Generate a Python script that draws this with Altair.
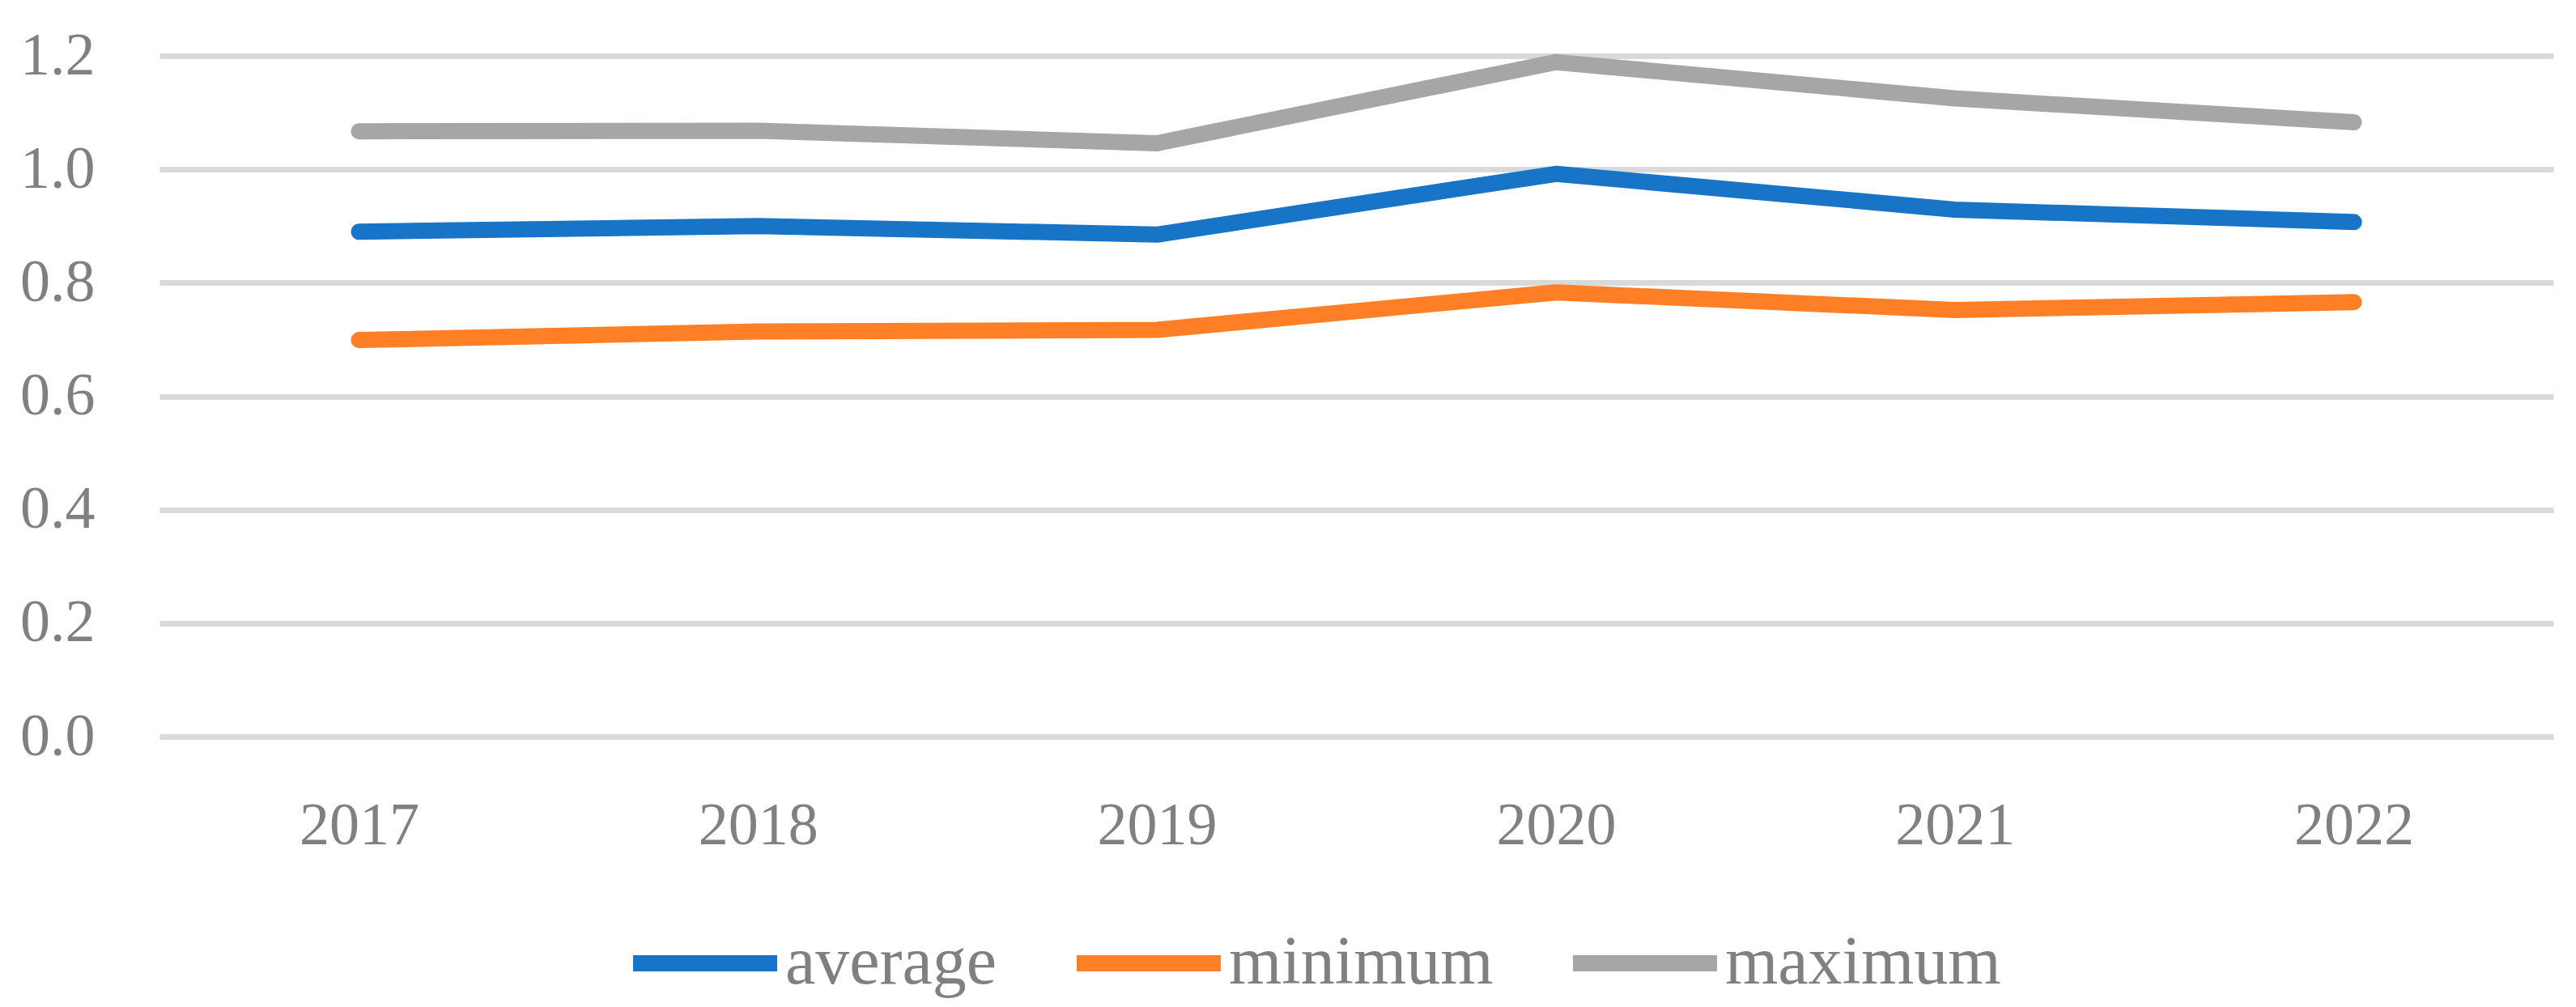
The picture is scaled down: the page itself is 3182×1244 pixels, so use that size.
import altair as alt
import pandas as pd

years = ["2017", "2018", "2019", "2020", "2021", "2022"]
average = [0.890, 0.900, 0.885, 0.992, 0.929, 0.907]
minimum = [0.699, 0.714, 0.717, 0.783, 0.752, 0.766]
maximum = [1.067, 1.068, 1.046, 1.189, 1.125, 1.083]
series_names = ["average", "minimum", "maximum"]
series_colors = ["#1874C7", "#FF7F27", "#A6A6A6"]
y_ticks = [0.0, 0.2, 0.4, 0.6, 0.8, 1.0, 1.2]

rows = []
for name, vals in zip(series_names, [average, minimum, maximum]):
    for i, (yr, v) in enumerate(zip(years, vals)):
        rows.append({"year": yr, "value": v, "series": name, "order": i})
df = pd.DataFrame(rows)

W, H = 2957, 841
FONT = "Liberation Serif"
TXT = "#808080"

chart = alt.Chart(df).mark_line(
    strokeWidth=20, strokeCap="round", strokeJoin="round"
).encode(
    x=alt.X("year:N", sort=years,
            scale=alt.Scale(type="point", padding=0.5),
            axis=alt.Axis(title=None, labelAngle=0, domain=False, ticks=False,
                          labelPadding=74, labelFont=FONT, labelFontSize=74,
                          labelColor=TXT, grid=False)),
    y=alt.Y("value:Q",
            scale=alt.Scale(domain=[0, 1.2], nice=False, zero=True),
            axis=alt.Axis(title=None, values=y_ticks, format=".1f",
                          domain=False, ticks=False, labelPadding=80,
                          labelFont=FONT, labelFontSize=74, labelColor=TXT,
                          grid=True, gridColor="#D9D9D9", gridWidth=7)),
    color=alt.Color("series:N",
                    scale=alt.Scale(domain=series_names, range=series_colors),
                    legend=alt.Legend(title=None, orient="none",
                                      direction="horizontal",
                                      legendX=575, legendY=1022,
                                      symbolType="stroke", symbolSize=31684,
                                      symbolStrokeWidth=20,
                                      labelFont=FONT, labelFontSize=84,
                                      labelLimit=0,
                                      labelColor=TXT, labelOffset=0,
                                      columnPadding=58, padding=0)),
    detail="series:N",
    order="order:Q",
).properties(
    width=W, height=H,
    autosize=alt.AutoSizeParams(type="none"),
    padding={"left": 189, "top": 61, "right": 12, "bottom": 326},
).configure_view(stroke=None)

chart.save("out.html", embed_options={"renderer": "svg", "actions": False})
